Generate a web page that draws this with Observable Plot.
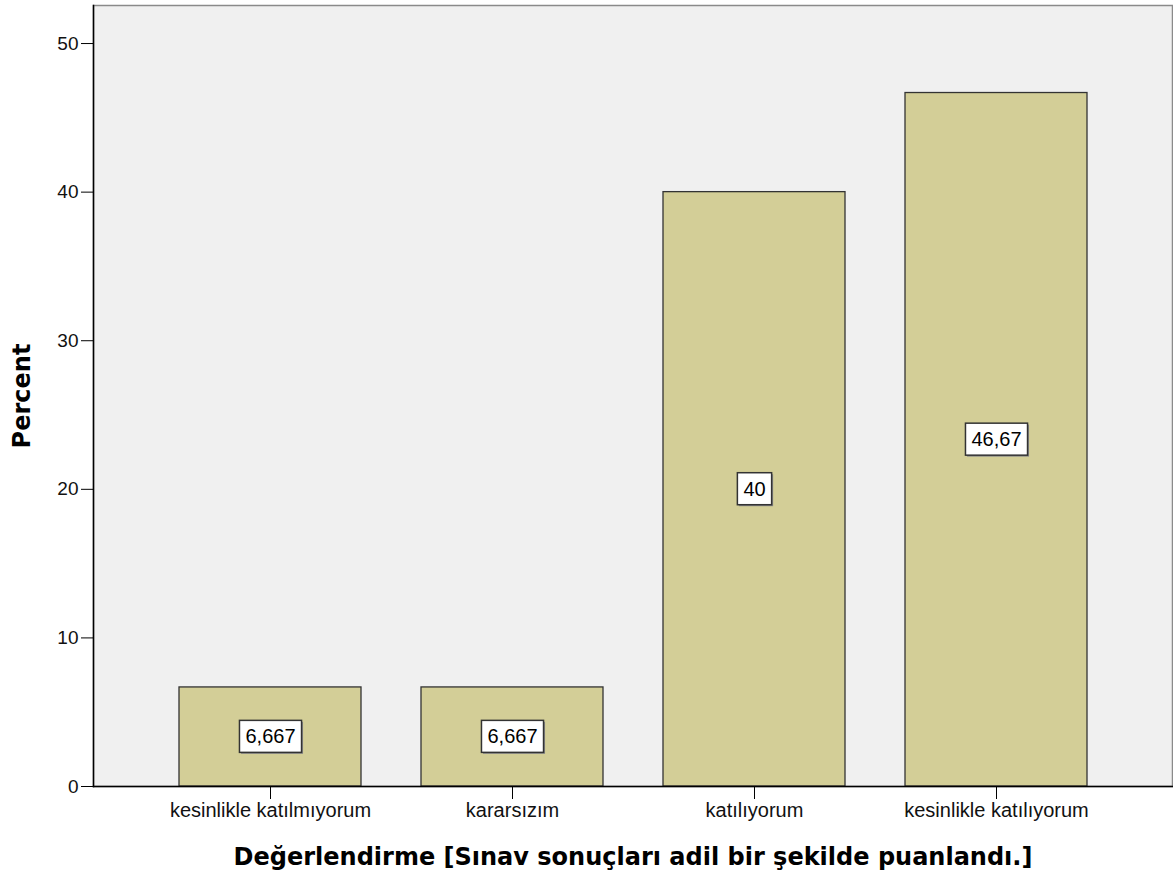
<!DOCTYPE html>
<html>
<head>
<meta charset="utf-8">
<script src="https://cdn.jsdelivr.net/npm/d3@7"></script>
<script src="https://cdn.jsdelivr.net/npm/@observablehq/plot@0.6"></script>
<style>
  html, body { margin: 0; padding: 0; background: #fff; }
  #chart svg { display: block; }
</style>
</head>
<body>
<div id="chart"></div>
<script>
const categories = ["kesinlikle katılmıyorum", "kararsızım", "katılıyorum", "kesinlikle katılıyorum"];
const percents = [6.667, 6.667, 40, 46.67];
const valueLabels = ["6,667", "6,667", "40", "46,67"];
const yTicks = [0, 10, 20, 30, 40, 50];
const xTitle = "Değerlendirme [Sınav sonuçları adil bir şekilde puanlandı.]";
const yTitle = "Percent";

const data = categories.map((c, i) => ({category: c, value: percents[i], label: valueLabels[i]}));

const chart = Plot.plot({
  width: 1173,
  height: 880,
  marginLeft: 93,
  marginRight: 1,
  marginTop: 5,
  marginBottom: 94,
  style: {fontFamily: "'Liberation Sans', Arial, sans-serif", fontSize: "20px", color: "#111", background: "#fff"},
  x: {domain: categories, paddingInner: 0.25, paddingOuter: 0.35, label: null},
  y: {domain: [0, 52.56], label: null},
  marks: [
    Plot.frame({fill: "#f0f0f0", stroke: "#8a8a8a", strokeWidth: 1.5}),
    Plot.barY(data, {x: "category", y: "value", fill: "#d3ce97", stroke: "#333", strokeWidth: 1.3}),
    Plot.frame({anchor: "left", stroke: "#000", strokeWidth: 1.5}),
    Plot.frame({anchor: "bottom", stroke: "#000", strokeWidth: 1.5}),
    Plot.axisY({ticks: yTicks, tickSize: 12, tickPadding: 3, stroke: "#000", fontSize: 19, label: null, tickFormat: d => String(d)}),
    Plot.axisX({tickSize: 13, tickPadding: 3, stroke: "#000", fontSize: 20, label: null}),
    Plot.text(data, {x: "category", y: d => d.value / 2, text: "label", fontSize: 20, fill: "#000", ariaLabel: "value-labels"}),
    Plot.text([xTitle], {frameAnchor: "bottom", lineAnchor: "middle", textAnchor: "middle", dy: 71, text: d => d, fontFamily: "'DejaVu Sans', sans-serif", fontWeight: "bold", fontSize: 24, fill: "#000"}),
    Plot.text([yTitle], {frameAnchor: "left", textAnchor: "middle", lineAnchor: "middle", dx: -71, rotate: -90, text: d => d, fontFamily: "'DejaVu Sans', sans-serif", fontWeight: "bold", fontSize: 24, fill: "#000"})
  ]
});

document.getElementById("chart").appendChild(chart);

// white boxes behind the value labels
const ns = "http://www.w3.org/2000/svg";
let target = null;
chart.querySelectorAll("g").forEach(g => {
  const texts = Array.from(g.children).filter(c => c.tagName.toLowerCase() === "text");
  const al = g.getAttribute("aria-label") || "";
  if (target) return;
  if (al === "value-labels") { target = g; return; }
  if (!al.includes("tick") && texts.length === valueLabels.length &&
      texts.every((t, i) => t.textContent === valueLabels[i])) target = g;
});
if (target) {
  Array.from(target.querySelectorAll("text")).forEach(t => {
    const b = t.getBBox();
    const padX = 6, padY = 5;
    const tr = t.getAttribute("transform") || "";
    const mk = (fill, extra) => {
      const r = document.createElementNS(ns, "rect");
      r.setAttribute("x", b.x - padX);
      r.setAttribute("y", b.y - padY);
      r.setAttribute("width", b.width + 2 * padX);
      r.setAttribute("height", b.height + 2 * padY);
      r.setAttribute("fill", fill);
      r.setAttribute("transform", tr + extra);
      return r;
    };
    const shadow = mk("#8a8a8a", " translate(1.5,1.5)");
    const rect = mk("#fff", "");
    rect.setAttribute("stroke", "#333");
    rect.setAttribute("stroke-width", "1.5");
    t.parentNode.insertBefore(shadow, t);
    t.parentNode.insertBefore(rect, t);
  });
}
</script>
</body>
</html>
